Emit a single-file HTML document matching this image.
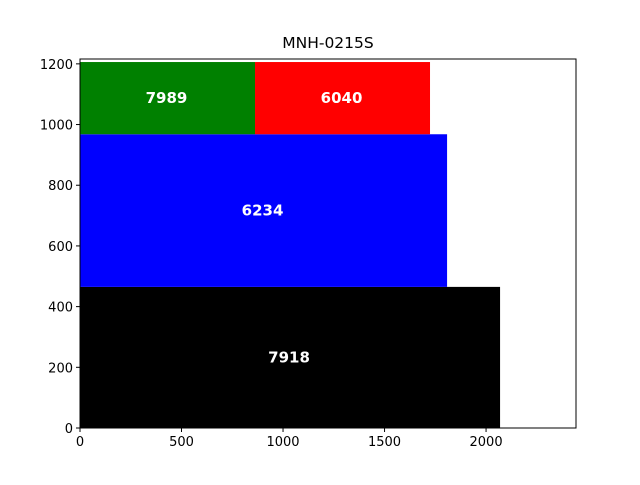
<!DOCTYPE html>
<html><head><meta charset="utf-8"><style>
body{margin:0;background:#fff}
svg{font-family:"DejaVu Sans","Liberation Sans",sans-serif}
</style></head><body>
<svg id="chart" width="640" height="480"></svg>
<script>
const labels=["7918","6234","7989","6040"];
const rectX=[0,0,0,862];
const rectY=[0,465,968,968];
const rectW=[2069,1808,862,862];
const rectH=[465,503,238,238];
const colors=["#000000","#0000ff","#008000","#ff0000"];
const xTicks=[0,500,1000,1500,2000];
const yTicks=[0,200,400,600,800,1000,1200];
const xMax=2443,yMax=1216;
const L=80,R=576,T=59,B=428;
const sx=v=>L+v/xMax*(R-L);
const sy=v=>B-v/yMax*(B-T);
const svg=document.getElementById('chart');
const NS="http://www.w3.org/2000/svg";
function mk(t,a){const e=document.createElementNS(NS,t);for(const k in a)e.setAttribute(k,a[k]);svg.appendChild(e);return e;}
for(let i=0;i<labels.length;i++){
 const r=mk('rect',{x:sx(rectX[i]),y:sy(rectY[i]+rectH[i]),width:sx(rectX[i]+rectW[i])-sx(rectX[i]),height:sy(rectY[i])-sy(rectY[i]+rectH[i]),fill:colors[i]});
 
 
 const t=mk('text',{x:sx(rectX[i]+rectW[i]/2)-1,y:sy(rectY[i]+rectH[i]/2)+5,'text-anchor':'middle','font-size':15,'font-weight':'bold',fill:'#fff'});
 t.textContent=labels[i];
 
 
}
const frame=mk('rect',{x:L,y:T,width:R-L,height:B-T,fill:'none',stroke:'#000','stroke-width':1});


xTicks.forEach(v=>{
 mk('line',{x1:sx(v),x2:sx(v),y1:B,y2:B+4,stroke:'#000'});
 const t=mk('text',{x:sx(v),y:B+18,'text-anchor':'middle','font-size':13});
 t.textContent=v;
 
 
});
yTicks.forEach(v=>{
 mk('line',{x1:L-4,x2:L,y1:sy(v),y2:sy(v),stroke:'#000'});
 const t=mk('text',{x:L-7,y:sy(v)+5,'text-anchor':'end','font-size':13});
 t.textContent=v;
 
 
});
const title=mk('text',{x:(L+R)/2,y:48,'text-anchor':'middle','font-size':15.5});
title.textContent='MNH-0215S';


</script>
</body></html>
